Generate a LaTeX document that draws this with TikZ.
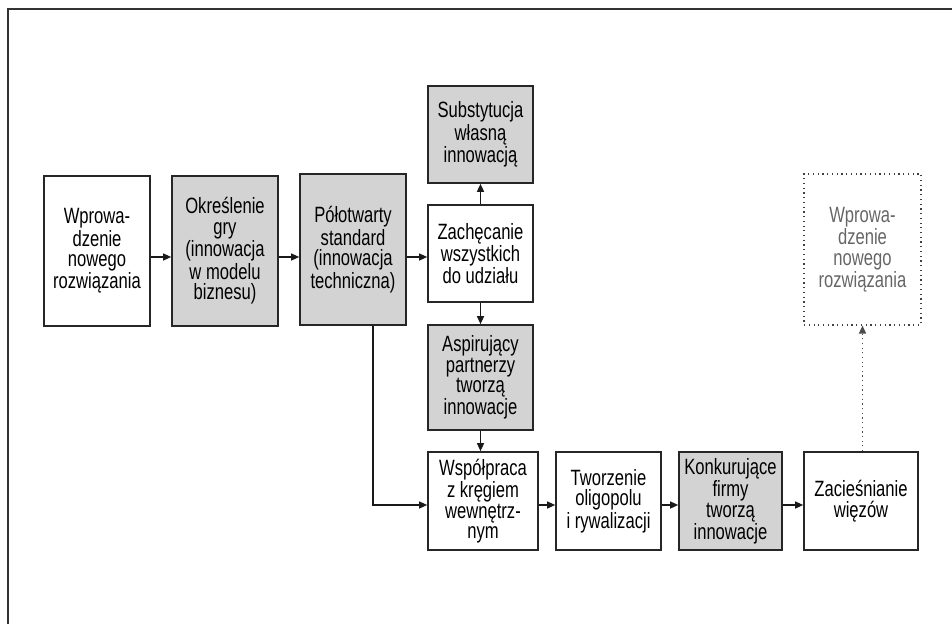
\documentclass[tikz,border=0pt]{standalone}
\usepackage{fontspec}
\setmainfont{Liberation Sans}[FakeStretch=0.75]
\usetikzlibrary{arrows.meta}
\definecolor{boxgray}{HTML}{D3D3D3}
\tikzset{
  block/.style={draw=black!85, line width=1pt, align=center, inner sep=0pt,
    font=\fontsize{12.6}{11.7}\selectfont},
  shaded/.style={block, fill=boxgray},
  ghost/.style={block, draw=black!75, line width=0.7pt, dotted, text=black!60},
  link/.style={line width=0.65pt, draw=black!90, -{Triangle[length=4.5pt,width=4pt]}}
}
\begin{document}
\begin{tikzpicture}[x=0.02cm, y=-0.02cm]
      \useasboundingbox (0,0) rectangle (952,624);
      \draw[line width=1pt, black!80] (8,624) -- (8,8.7) -- (952,8.7);
      \node[block, minimum width=2.12cm, minimum height=3cm] (b1) at (97,251)
        {Wprowa-\\dzenie\\nowego\\rozwiązania};
      \node[shaded, minimum width=2.12cm, minimum height=3cm] (b2) at (225,251)
        {Określenie\\gry\\(innowacja\\w modelu\\biznesu)};
      \node[shaded, minimum width=2.12cm, minimum height=3.02cm] (b3) at (353,249.5)
        {Półotwarty\\standard\\(innowacja\\techniczna)};
      \node[shaded, minimum width=2.1cm, minimum height=1.94cm] (subst) at (480.5,134.5)
        {Substytucja\\własną\\innowacją};
      \node[block, minimum width=2.1cm, minimum height=1.94cm] (zach) at (480.5,253.5)
        {Zachęcanie\\wszystkich\\do udziału};
      \node[shaded, minimum width=2.1cm, minimum height=2.1cm] (aspir) at (480.5,377.5)
        {Aspirujący\\partnerzy\\tworzą\\innowacje};
      \node[block, minimum width=2.2cm, minimum height=1.96cm] (wspol) at (483,501)
        {Współpraca\\z kręgiem\\wewnętrz-\\nym};
      \node[block, minimum width=2.1cm, minimum height=1.96cm] (tworz) at (608.5,501)
        {Tworzenie\\oligopolu\\i rywalizacji};
      \node[shaded, minimum width=2.06cm, minimum height=1.96cm] (konk) at (730.5,501)
        {Konkurujące\\firmy\\tworzą\\innowacje};
      \node[block, minimum width=2.28cm, minimum height=1.96cm] (zac) at (861,501)
        {Zacieśnianie\\więzów};
      \node[ghost, minimum width=2.34cm, minimum height=3.02cm] (next) at (862.5,249.5)
        {Wprowa-\\dzenie\\nowego\\rozwiązania};
      \coordinate (row) at (0,257);
      \coordinate (low) at (0,505);
      \coordinate (drop) at (373,505);
      \begin{scope}[link]
        \draw (b1.east |- row) -- (b2.west |- row);
        \draw (b2.east |- row) -- (b3.west |- row);
        \draw (b3.east |- row) -- (zach.west |- row);
        \draw (zach) -- (subst);
        \draw (zach) -- (aspir);
        \draw (aspir.south) -- (aspir.south |- wspol.north);
        \draw (b3.south -| drop) |- (wspol.west |- drop);
        \draw (wspol.east |- low) -- (tworz.west |- low);
        \draw (tworz.east |- low) -- (konk.west |- low);
        \draw (konk.east |- low) -- (zac.west |- low);
        \draw[dotted, draw=black!70] (next.south |- zac.north) -- (next.south);
      \end{scope}
\end{tikzpicture}
\end{document}
